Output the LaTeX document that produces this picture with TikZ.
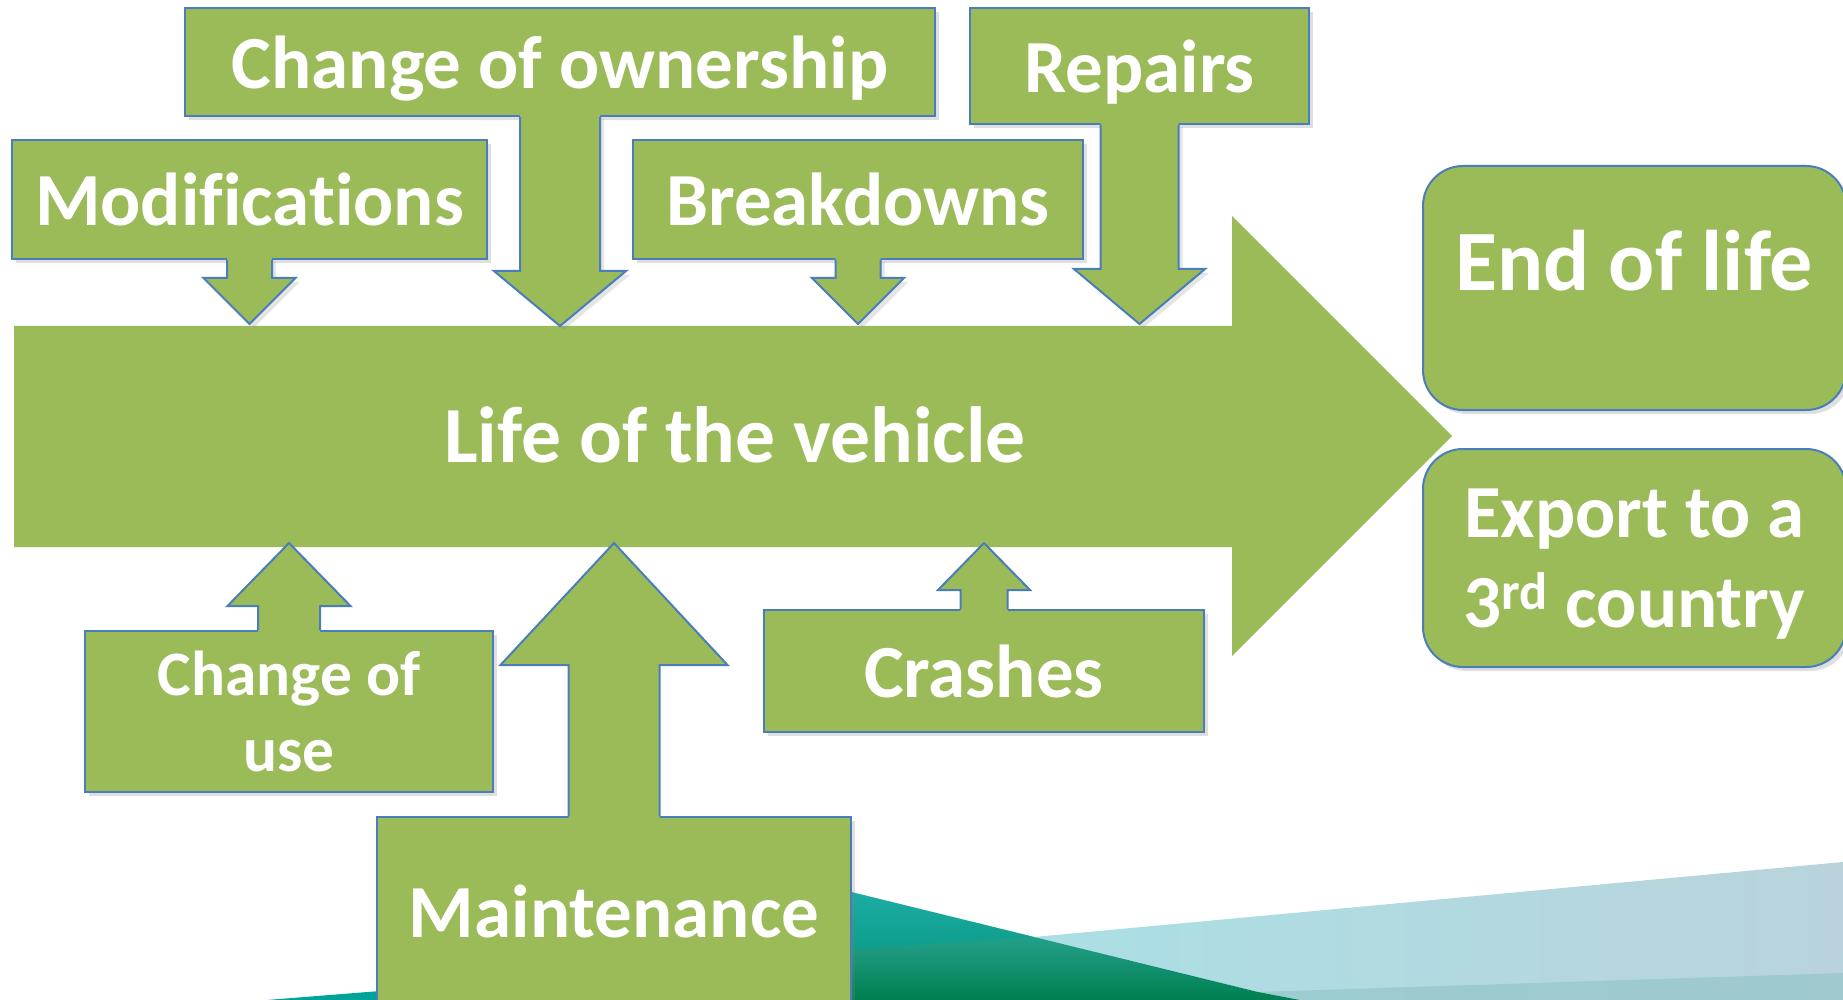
\documentclass[tikz,border=0pt]{standalone}
\usepackage{fontspec}
\setmainfont{Carlito}[Ligatures=CommonOff]
\usetikzlibrary{shadows}
\definecolor{grn}{HTML}{9BBB59}
\definecolor{bdr}{HTML}{4A7EBB}
\definecolor{teal1}{HTML}{3DB8B4}
\definecolor{teal2}{HTML}{00A39A}
\definecolor{dkgrn}{HTML}{007F50}
\definecolor{lblue1}{HTML}{ABDFE5}
\definecolor{lblue2}{HTML}{B9D3DC}
\definecolor{strip}{HTML}{8EC3C4}
\tikzset{
  x=0.5pt, y=-0.5pt,
  box/.style={draw=bdr, line width=1pt, fill=grn, text=white,
    font=\bfseries\fontsize{37.5}{45}\selectfont, align=center, inner sep=0pt, text depth=0pt,
    drop shadow={shadow xshift=2pt, shadow yshift=-2pt, opacity=0.25}},
  rbox/.style={box, rounded corners=20pt},
  arrowline/.style={draw=bdr, line width=1pt, line join=miter},
  lbl/.style={text=white, font=\bfseries\fontsize{39.8}{47}\selectfont, inner sep=0pt},
}
% down block arrow from a node: #1 node, #2 stem half width, #3 stem length, #4 head half width, #5 head height
\newcommand{\dnblk}[5]{%
  \fill[grn, drop shadow={shadow xshift=2pt, shadow yshift=-2pt, opacity=0.2}] (#1.south) ++(-#2,-2) -- ++(0,#3+2) -- ++(#2-#4,0) -- ++(#4,#5) -- ++(#4,-#5) -- ++(#2-#4,0) -- ++(0,-#3-2) -- cycle;
  \draw[arrowline] (#1.south) ++(-#2,0) -- ++(0,#3) -- ++(#2-#4,0) -- ++(#4,#5) -- ++(#4,-#5) -- ++(#2-#4,0) -- ++(0,-#3);
}
\newcommand{\upblk}[5]{%
  \fill[grn] (#1.north) ++(-#2,2) -- ++(0,-#3-2) -- ++(#2-#4,0) -- ++(#4,-#5) -- ++(#4,#5) -- ++(#2-#4,0) -- ++(0,#3+2) -- cycle;
  \draw[arrowline] (#1.north) ++(-#2,0) -- ++(0,-#3) -- ++(#2-#4,0) -- ++(#4,-#5) -- ++(#4,#5) -- ++(#2-#4,0) -- ++(0,#3);
}
\begin{document}
\begin{tikzpicture}
\useasboundingbox (0,0) rectangle (1843,1000);
\fill[white] (0,0) rectangle (1843,1000);
% background decoration
\shade[left color=lblue1, right color=lblue2] (1034,937) -- (1843,862) -- (1843,1000) -- (1300,1000) -- (1258,992) -- cycle;
\fill[strip, opacity=0.6] (1258,992) -- (1843,973) -- (1843,1000) -- (1300,1000) -- cycle;
\shade[top color=teal1, bottom color=dkgrn] (843,890) -- (1258,992) -- (1300,1000) -- (843,1000) -- cycle;
\fill[teal2, opacity=0.5] (843,890) -- (1034,937) -- (843,950) -- cycle;
\fill[teal2] (267,1000) -- (380,991) -- (380,1000) -- cycle;

% main arrow
\fill[grn] (14,326) -- (1232,326) -- (1232,216) -- (1452,436) -- (1232,656) -- (1232,547) -- (14,547) -- cycle;
\node[lbl] (life) at (735,435) {Life of the vehicle};

% top boxes
\node[box, minimum width=375pt, minimum height=54pt] (own) at (560,62) {Change of ownership};
\node[box, minimum width=237.5pt, minimum height=59.5pt] (mod) at (249.5,199.5) {Modifications};
\node[box, minimum width=225pt, minimum height=59.5pt] (brk) at (858,199.5) {Breakdowns};
\node[box, minimum width=169.5pt, minimum height=58pt] (rep) at (1139.5,66) {Repairs};
\dnblk{own}{40}{154}{66}{55}
\dnblk{mod}{22.5}{18}{46}{46}
\dnblk{brk}{22.5}{18}{46}{46}
\dnblk{rep}{39}{144}{65.5}{55}

% bottom boxes
\node[box, minimum width=204pt, minimum height=80.5pt, font=\bfseries\fontsize{31.7}{38}\selectfont] (use) at (289,711.5) {Change of\\use};
\node[box, minimum width=237pt, minimum height=101.5pt] (mnt) at (614,918.5) {};
\node[text=white, font=\bfseries\fontsize{37.5}{45}\selectfont, inner sep=0pt] (mnttext) at (614,911) {Maintenance};
\node[box, minimum width=220pt, minimum height=61pt] (crs) at (984,671) {Crashes};
\upblk{use}{31}{24}{61.5}{63}
\upblk{mnt}{45.5}{151}{113.5}{122}
\upblk{crs}{23.5}{19}{46}{47}

% outcome boxes
\node[rbox, minimum width=211.5pt, minimum height=122pt] (eol) at (1634.5,288) {};
\node[text=white, font=\bfseries\fontsize{43}{50}\selectfont, inner sep=0pt] (eoltext) at (1634,261) {End of life};
\node[rbox, minimum width=211.5pt, minimum height=109pt] (exp) at (1634.5,558) {Export to a\\3\textsuperscript{rd} country};
\end{tikzpicture}
\end{document}
